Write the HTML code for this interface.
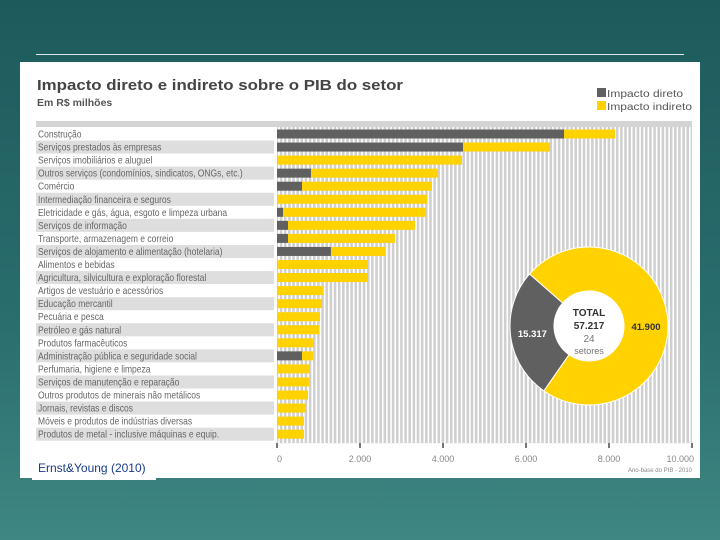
<!DOCTYPE html>
<html><head><meta charset="utf-8"><style>
body{margin:0;width:720px;height:540px;overflow:hidden;background:linear-gradient(180deg,#1d5a5c 0%,#2a6e6e 60%,#3f8783 100%);font-family:"Liberation Sans",sans-serif;position:relative}
#rule{position:absolute;left:36px;top:54px;width:648px;height:1px;background:#dfe9e8}
#panel{position:absolute;left:20px;top:62px;width:680px;height:416px;background:#fff}
svg{position:absolute;left:0;top:0}
#credit{position:absolute;left:32px;top:458px;width:124px;height:22px;background:#fff;font-size:12px;color:#1a3a8a;padding:3px 0 0 6px;box-sizing:border-box}
</style></head><body>
<div id="rule"></div>
<div id="panel"></div>
<svg id="chart" width="720" height="540"></svg>
<div id="credit">Ernst&amp;Young (2010)</div>
<script>
const categories=["Construção","Serviços prestados às empresas","Serviços imobiliários e aluguel","Outros serviços (condomínios, sindicatos, ONGs, etc.)","Comércio","Intermediação financeira e seguros","Eletricidade e gás, água, esgoto e limpeza urbana","Serviços de informação","Transporte, armazenagem e correio","Serviços de alojamento e alimentação (hotelaria)","Alimentos e bebidas","Agricultura, silvicultura e exploração florestal","Artigos de vestuário e acessórios","Educação mercantil","Pecuária e pesca","Petróleo e gás natural","Produtos farmacêuticos","Administração pública e seguridade social","Perfumaria, higiene e limpeza","Serviços de manutenção e reparação","Outros produtos de minerais não metálicos","Jornais, revistas e discos","Móveis e produtos de indústrias diversas","Produtos de metal - inclusive máquinas e equip."];
const direto=[6916,4482,0,819,602,0,145,265,265,1300,0,0,0,0,0,0,0,602,0,0,0,0,0,0];
const indireto=[1229,2096,4458,3061,3133,3614,3445,3060,2578,1302,2193,2193,1108,1084,1036,1012,891,265,795,771,747,699,650,650];
const ticks=[0,2000,4000,6000,8000,10000];
const tickLabels=["0","2.000","4.000","6.000","8.000","10.000"];
const donutValues=[15317,41900];
const donutLabels=["15.317","41.900"];

const NS="http://www.w3.org/2000/svg";
const svg=document.getElementById('chart');
function el(t,a,txt){const e=document.createElementNS(NS,t);for(const k in a)e.setAttribute(k,a[k]);if(txt!==undefined)e.textContent=txt;svg.appendChild(e);return e;}
const x0=277,x1=692,vmax=10000;
const X=v=>x0+(v/vmax)*(x1-x0);
const rowTop=128,rowH=13.05;
const Y=i=>rowTop+i*rowH;

let e;
e=el('text',{x:37,y:90,'font-size':15,'font-weight':'bold',fill:'#444',textLength:366,lengthAdjust:'spacingAndGlyphs'},'Impacto direto e indireto sobre o PIB do setor');

e=el('text',{x:37,y:106,'font-size':10.5,'font-weight':'bold',fill:'#555'},'Em R$ milhões');

e=el('rect',{x:597,y:88,width:9,height:9,fill:'#606060'});
e=el('text',{x:607,y:97,'font-size':10.5,fill:'#555',textLength:76,lengthAdjust:'spacingAndGlyphs'},'Impacto direto');
e=el('rect',{x:597,y:101,width:9,height:9,fill:'#ffd200'});
e=el('text',{x:607,y:110,'font-size':10.5,fill:'#555',textLength:85,lengthAdjust:'spacingAndGlyphs'},'Impacto indireto');
e=el('rect',{x:36,y:121,width:656,height:6,fill:'#d4d4d4'});
e=el('rect',{x:x0,y:127,width:x1-x0,height:Y(categories.length)-127+2,fill:'#cfcfcf'});
for(let v=0;v<=vmax;v+=100){e=el('line',{x1:X(v)+2,x2:X(v)+2,y1:127,y2:Y(categories.length)+2,stroke:'#fff','stroke-width':1.6});
}
categories.forEach((c,i)=>{
  if(i%2===1){e=el('rect',{x:36,y:Y(i)-0.5,width:238,height:rowH,fill:'#dedede'});}
  e=el('text',{x:38,y:Y(i)+9.5,'font-size':10.5,fill:'#666'},c);
  
  const w=e.getComputedTextLength();e.setAttribute('textLength',(w*0.81).toFixed(1));e.setAttribute('lengthAdjust','spacingAndGlyphs');
  const by=Y(i)+1.5,bh=9;
  e=el('rect',{x:X(direto[i]),y:by,width:X(indireto[i])-x0,height:bh,fill:'#ffd200'});
  
  if(direto[i]>0){e=el('rect',{x:x0,y:by,width:X(direto[i])-x0,height:bh,fill:'#606060'});
  }
});
ticks.forEach((t,i)=>{
  e=el('rect',{x:X(t)-1,y:443,width:2,height:5,fill:'#777'});
  e=el('text',{x:i===ticks.length-1?X(t)+2:X(t),y:462,'font-size':9,fill:'#888','text-anchor':i===0?'start':(i===ticks.length-1?'end':'middle')},tickLabels[i]);
  
});
e=el('text',{x:692,y:472,'font-size':6,fill:'#888','text-anchor':'end'},'Ano-base do PIB - 2010');
const cx=589,cy=326,R=79,r=35,tot=donutValues[0]+donutValues[1];
const dSpan=donutValues[0]/tot*360,startA=263-dSpan/2;
function pt(a,rad){const t=(a-90)*Math.PI/180;return [cx+rad*Math.cos(t),cy+rad*Math.sin(t)];}
function arc(a0,a1){const l=(a1-a0)>180?1:0;const p0=pt(a0,R),p1=pt(a1,R),q1=pt(a1,r),q0=pt(a0,r);
return `M${p0}A${R},${R} 0 ${l} 1 ${p1}L${q1}A${r},${r} 0 ${l} 0 ${q0}Z`;}
e=el('path',{d:arc(startA,startA+dSpan),fill:'#606060',stroke:'#fff','stroke-width':1});
e=el('path',{d:arc(startA+dSpan,startA+360),fill:'#ffd200',stroke:'#fff','stroke-width':1});
e=el('circle',{cx:cx,cy:cy,r:r,fill:'#fff'});
e=el('text',{x:cx,y:316,'font-size':10,'font-weight':'bold',fill:'#333','text-anchor':'middle'},'TOTAL');
e=el('text',{x:cx,y:329,'font-size':10,'font-weight':'bold',fill:'#333','text-anchor':'middle'},'57.217');
e=el('text',{x:cx,y:342,'font-size':10,fill:'#777','text-anchor':'middle'},'24');
e=el('text',{x:cx,y:354,'font-size':9,fill:'#777','text-anchor':'middle'},'setores');
const lp=pt(263,(R+r)/2);
e=el('text',{x:lp[0],y:lp[1]+4,'font-size':9.5,'font-weight':'bold',fill:'#fff','text-anchor':'middle'},donutLabels[0]);
const lp2=pt(90,(R+r)/2);
e=el('text',{x:lp2[0],y:lp2[1]+4,'font-size':9.5,'font-weight':'bold',fill:'#333','text-anchor':'middle'},donutLabels[1]);
</script>
</body></html>
